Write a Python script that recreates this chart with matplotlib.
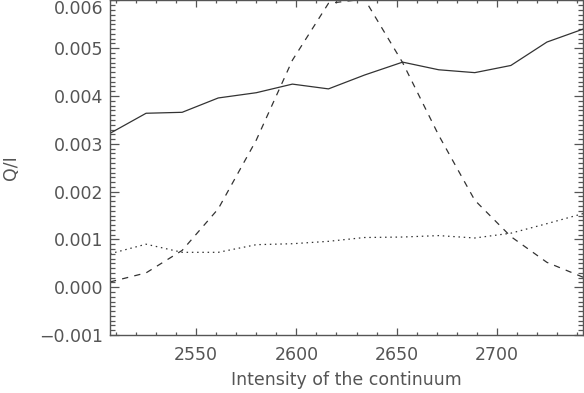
import matplotlib
matplotlib.use("Agg")
import matplotlib.pyplot as plt
from matplotlib.ticker import MultipleLocator, FuncFormatter

# Data
intensity = [2507, 2525, 2543, 2561, 2580, 2598, 2616, 2634, 2653, 2671, 2689, 2707, 2725, 2743]
q_solid = [0.00322, 0.00364, 0.00366, 0.00396, 0.00407, 0.00425, 0.00415, 0.00444,
           0.00471, 0.00455, 0.00449, 0.00464, 0.00513, 0.00540]
q_dashed = [0.00011, 0.00030, 0.00077, 0.00164, 0.00308, 0.00475, 0.00594, 0.00603,
            0.00470, 0.00318, 0.00182, 0.00106, 0.00052, 0.00021]
q_dotted = [0.00070, 0.00090, 0.00073, 0.00073, 0.00089, 0.00091, 0.00096, 0.00104,
            0.00105, 0.00108, 0.00103, 0.00113, 0.00133, 0.00154]

xlabel = "Intensity of the continuum"
ylabel = "Q/I"

W, H = 584, 393
fig = plt.figure(figsize=(W / 100, H / 100), dpi=100)
ax = fig.add_axes([110 / W, 58 / H, 473 / W, 335 / H])

lc = "#333333"
ax.plot(intensity, q_solid, color=lc, lw=0.9, linestyle="-")
ax.plot(intensity, q_dashed, color=lc, lw=0.9, linestyle=(0, (5, 5)))
ax.plot(intensity, q_dotted, color=lc, lw=0.9, linestyle=(0, (1.2, 3.0)))

ax.set_xlim(intensity[0], intensity[-1])
ax.set_ylim(-0.001, 0.00601)

ax.xaxis.set_major_locator(MultipleLocator(50))
ax.xaxis.set_minor_locator(MultipleLocator(10))
ax.yaxis.set_major_locator(MultipleLocator(0.001))
ax.yaxis.set_minor_locator(MultipleLocator(0.0001))
ax.yaxis.set_major_formatter(FuncFormatter(
    lambda v, p: ("\u2212" if v < -1e-9 else "") + f"{abs(v):.3f}"))

tc = "#555555"
for s in ax.spines.values():
    s.set_color(tc)
    s.set_linewidth(1.0)

fs = 12.5
ax.tick_params(axis="both", which="both", direction="in", top=True, right=True,
               color=tc, labelcolor="#555555", labelsize=fs, width=0.9)
ax.tick_params(axis="x", which="major", length=4.8, pad=8)
ax.tick_params(axis="x", which="minor", length=2.4)
ax.tick_params(axis="y", which="major", length=6.8, pad=5)
ax.tick_params(axis="y", which="minor", length=3.4)

ax.set_xlabel(xlabel, fontsize=fs, color="#555555")
ax.xaxis.set_label_coords(0.5, -0.108)
ax.set_ylabel(ylabel, fontsize=fs, color="#555555")
ax.yaxis.set_label_coords(-0.19, 0.5)

# keep the top tick label inside the figure, as in the reference
fig.canvas.draw()
for lab in ax.get_yticklabels():
    x, y = lab.get_position()
    if abs(y - 0.006) < 1e-7:
        lab.set_verticalalignment("top")

fig.savefig("out.png", dpi=100)
